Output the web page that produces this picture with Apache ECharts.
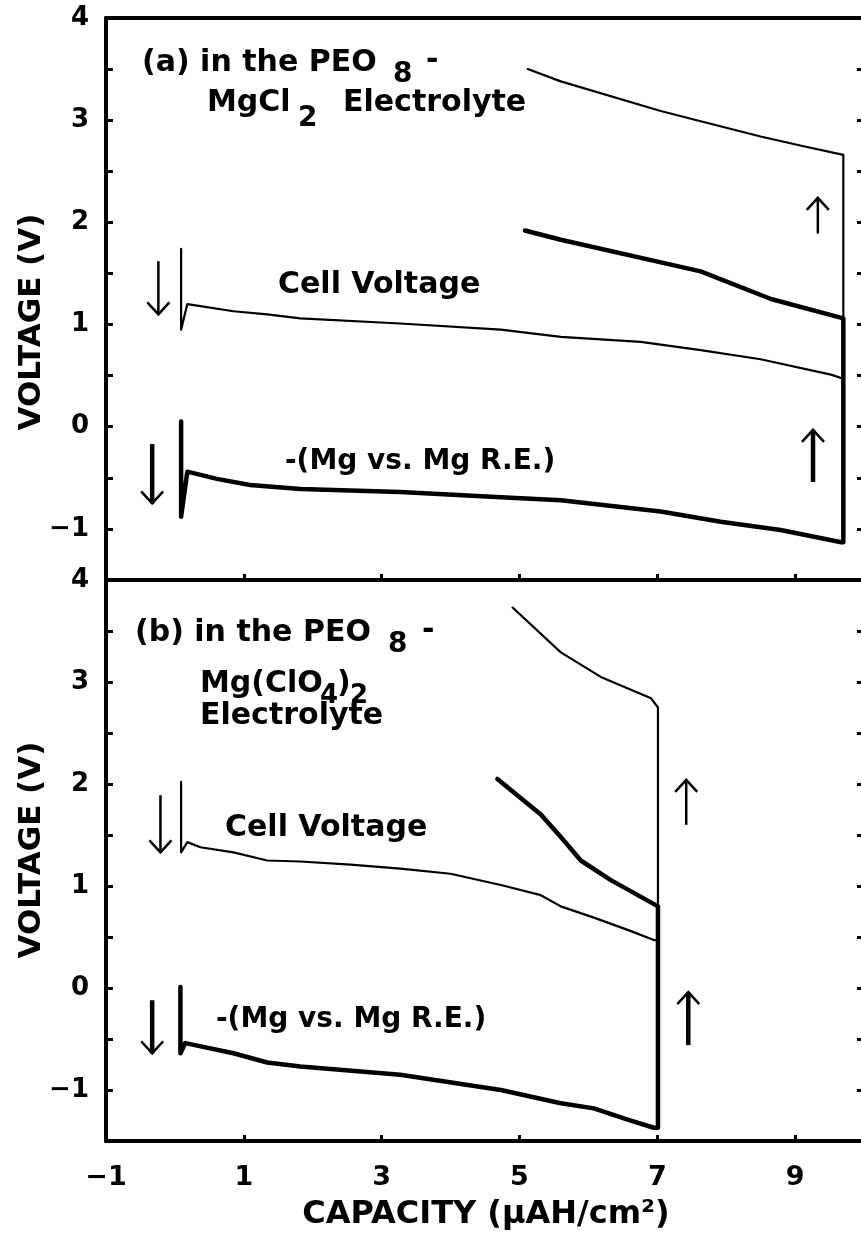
<!DOCTYPE html>
<html>
<head>
<meta charset="utf-8">
<script src="https://cdn.jsdelivr.net/npm/echarts@6/dist/echarts.min.js"></script>
<style>
  html, body { margin: 0; padding: 0; background: #fff; }
  #chart { width: 861px; height: 1239px; }
</style>
</head>
<body>
<div id="chart"></div>
<script>
// Capacity (µAH/cm²) vs voltage (V). Each trace: discharge, the jump at the
// end of discharge, then the charge curve running back to the left.

// (a) PEO8-MgCl2 electrolyte
const cellA = [
  [0.09, 1.74], [0.09, 0.95], [0.18, 1.20], [0.37, 1.18], [0.85, 1.13],
  [1.34, 1.10], [1.82, 1.06], [3.27, 1.01], [4.73, 0.95], [5.60, 0.88],
  [6.76, 0.83], [7.63, 0.75], [8.50, 0.66], [9.52, 0.51], [9.70, 0.47],
  [9.70, 2.66], [9.09, 2.75], [8.50, 2.84], [7.63, 2.99], [7.05, 3.09],
  [5.60, 3.38], [5.12, 3.50]
];
const mgA = [
  [0.09, 0.05], [0.09, -0.88], [0.18, -0.44], [0.61, -0.51], [1.09, -0.57],
  [1.82, -0.61], [3.27, -0.64], [4.73, -0.69], [5.60, -0.72], [7.05, -0.83],
  [7.92, -0.93], [8.79, -1.01], [9.67, -1.13], [9.70, -1.13],
  [9.70, 1.06], [8.65, 1.25], [7.63, 1.52], [5.60, 1.83], [5.08, 1.92]
];

// (b) PEO8-Mg(ClO4)2 electrolyte
const cellB = [
  [0.09, 2.02], [0.09, 1.33], [0.18, 1.43], [0.37, 1.38], [0.85, 1.33],
  [1.34, 1.25], [1.82, 1.24], [2.55, 1.21], [3.27, 1.17], [4.00, 1.12],
  [4.73, 1.01], [5.31, 0.91], [5.60, 0.80], [6.08, 0.69], [6.57, 0.57],
  [6.95, 0.47], [7.01, 0.47],
  [7.01, 2.75], [6.91, 2.84], [6.18, 3.05], [5.60, 3.29], [4.90, 3.73]
];
const mgB = [
  [0.08, 0.01], [0.08, -0.64], [0.15, -0.54], [0.85, -0.64], [1.34, -0.73],
  [1.82, -0.77], [3.27, -0.85], [4.73, -1.00], [5.60, -1.13], [6.08, -1.18],
  [6.57, -1.29], [6.95, -1.37], [7.01, -1.37],
  [7.01, 0.80], [6.32, 1.06], [5.89, 1.25], [5.60, 1.48], [5.31, 1.70], [4.68, 2.05]
];

// Axis ranges and tick labels
const capacityRange = [-1, 10];
const capacityTicks = [-1, 1, 3, 5, 7, 9];
const voltageRange = [-1.5, 4];
const voltageTicks = [-1, 0, 1, 2, 3, 4];

// Direction arrows (capacity, start voltage, end voltage, heavy?)
const arrowsA = [
  [-0.24, 1.62, 1.10, false],
  [-0.33, -0.17, -0.75, true],
  [9.33, 1.89, 2.24, false],
  [9.26, -0.54, -0.03, true]
];
const arrowsB = [
  [-0.21, 1.89, 1.33, false],
  [-0.33, -0.12, -0.64, true],
  [7.42, 1.60, 2.04, false],
  [7.45, -0.56, -0.04, true]
];

const FONT = 'DejaVu Sans';
const chart = echarts.init(document.getElementById('chart'), null, { renderer: 'canvas' });

const fmtNum = v => (v < 0 ? '\u2212' : '') + Math.abs(v);

function xAxisFor(grid, withLabels) {
  return {
    type: 'value', gridIndex: grid, position: 'bottom',
    min: capacityRange[0], max: capacityRange[1], interval: 2,
    axisLine: { show: true, onZero: false, lineStyle: { color: '#000', width: 4 } },
    axisTick: { show: true, inside: true, length: 6, lineStyle: { color: '#000', width: 3 } },
    splitLine: { show: false },
    axisLabel: {
      show: withLabels, color: '#000', fontFamily: FONT, fontWeight: 'bold', fontSize: 27, margin: 23,
      formatter: v => capacityTicks.indexOf(v) >= 0 ? fmtNum(v) : ''
    }
  };
}
function topAxisFor(grid) {
  return {
    type: 'value', gridIndex: grid, position: 'top',
    min: capacityRange[0], max: capacityRange[1], interval: 2,
    axisLine: { show: true, onZero: false, lineStyle: { color: '#000', width: 4 } },
    axisTick: { show: false }, axisLabel: { show: false }, splitLine: { show: false }
  };
}
function yAxisFor(grid, side) {
  const left = side === 'left';
  return {
    type: 'value', gridIndex: grid, position: side,
    min: voltageRange[0], max: voltageRange[1], interval: 0.5,
    axisLine: { show: left, onZero: false, lineStyle: { color: '#000', width: 4 } },
    axisTick: { show: true, inside: true, length: 7, lineStyle: { color: '#000', width: 3 } },
    splitLine: { show: false },
    axisLabel: {
      show: left, color: '#000', fontFamily: FONT, fontWeight: 'bold', fontSize: 26, margin: 17,
      formatter: v => voltageTicks.indexOf(v) >= 0 ? fmtNum(v) : ''
    }
  };
}
function trace(data, axisX, axisY, width) {
  return {
    type: 'line', data: data, xAxisIndex: axisX, yAxisIndex: axisY,
    symbol: 'none', smooth: false, animation: false, silent: true,
    lineStyle: { color: '#000', width: width, cap: 'round', join: 'round' }
  };
}

function txt(x, y, text, size, weight) {
  return {
    type: 'text', x: x, y: y, silent: true,
    style: {
      text: text, fill: '#000', font: (weight || 'bold') + ' ' + size + 'px "' + FONT + '"',
      textVerticalAlign: 'middle', textAlign: 'left'
    }
  };
}

const option = {
  backgroundColor: '#fff',
  animation: false,
  grid: [
    { left: 106, top: 18, width: 758, height: 562, outerBoundsMode: 'none', containLabel: false },
    { left: 106, top: 580, width: 758, height: 561, outerBoundsMode: 'none', containLabel: false }
  ],
  xAxis: [xAxisFor(0, false), topAxisFor(0), xAxisFor(1, true)],
  yAxis: [yAxisFor(0, 'left'), yAxisFor(0, 'right'), yAxisFor(1, 'left'), yAxisFor(1, 'right')],
  series: [
    trace(cellA, 0, 0, 2.2),
    trace(mgA, 0, 0, 4.5),
    trace(cellB, 2, 2, 2.2),
    trace(mgB, 2, 2, 4.5)
  ]
};
chart.setOption(option);

// Arrows and captions, placed after the scales exist
function arrowShapes(list, xIdx, yIdx) {
  const out = [];
  list.forEach(a => {
    const p0 = chart.convertToPixel({ xAxisIndex: xIdx, yAxisIndex: yIdx }, [a[0], a[1]]);
    const p1 = chart.convertToPixel({ xAxisIndex: xIdx, yAxisIndex: yIdx }, [a[0], a[2]]);
    const w = a[3] ? 4.5 : 2.5;
    const dir = p1[1] > p0[1] ? 1 : -1;
    const hw = 11, hl = 12;
    out.push({
      type: 'line', silent: true,
      shape: { x1: p0[0], y1: p0[1], x2: p1[0], y2: p1[1] },
      style: { stroke: '#000', lineWidth: w }
    });
    out.push({
      type: 'polyline', silent: true,
      shape: { points: [[p1[0] - hw, p1[1] - dir * hl], [p1[0], p1[1]], [p1[0] + hw, p1[1] - dir * hl]] },
      style: { stroke: '#000', lineWidth: 2.5, fill: 'none' }
    });
  });
  return out;
}

const graphics = []
  .concat(arrowShapes(arrowsA, 0, 0))
  .concat(arrowShapes(arrowsB, 2, 2))
  .concat([
    txt(142, 63, '(a) in the PEO', 30),
    txt(393, 75, '8', 28),
    txt(426, 61, '-', 30),
    txt(207, 103, 'MgCl', 30),
    txt(298, 119, '2', 28),
    txt(343, 103, 'Electrolyte', 30),
    txt(278, 285, 'Cell Voltage', 30),
    txt(285, 462, '-(Mg vs. Mg R.E.)', 28),

    txt(135, 633, '(b) in the PEO', 30),
    txt(388, 645, '8', 28),
    txt(422, 631, '-', 30),
    txt(200, 684, 'Mg(ClO', 30),
    txt(320, 696, '4', 26),
    txt(337, 684, ')', 30),
    txt(350, 696, '2', 26),
    txt(200, 716, 'Electrolyte', 30),
    txt(225, 828, 'Cell Voltage', 30),
    txt(216, 1020, '-(Mg vs. Mg R.E.)', 28),

    {
      type: 'text', x: 32, y: 322, rotation: Math.PI / 2, silent: true,
      style: { text: 'VOLTAGE (V)', fill: '#000', font: 'bold 31px "' + FONT + '"', textAlign: 'center', textVerticalAlign: 'middle' }
    },
    {
      type: 'text', x: 32, y: 850, rotation: Math.PI / 2, silent: true,
      style: { text: 'VOLTAGE (V)', fill: '#000', font: 'bold 31px "' + FONT + '"', textAlign: 'center', textVerticalAlign: 'middle' }
    },
    {
      type: 'text', x: 486, y: 1215, silent: true,
      style: { text: 'CAPACITY (\u00b5AH/cm\u00b2)', fill: '#000', font: 'bold 32px "' + FONT + '"', textAlign: 'center', textVerticalAlign: 'middle' }
    }
  ]);

chart.setOption({ graphic: graphics });
</script>
</body>
</html>
